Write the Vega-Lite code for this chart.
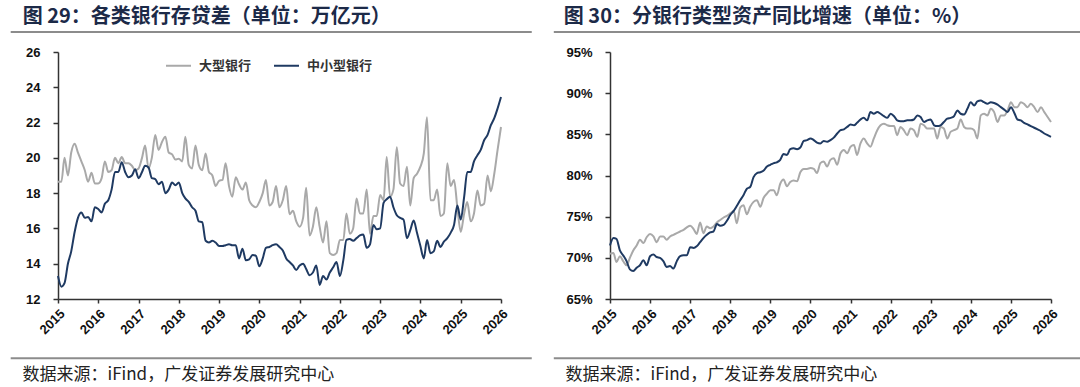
{
  "$schema": "https://vega.github.io/schema/vega-lite/v6.json",
  "background": "white",
  "padding": {"left": 9, "top": 6, "right": 0, "bottom": 0},
  "autosize": {"type": "pad"},
  "spacing": 19,
  "config": {
    "view": {"stroke": null},
    "axis": {"grid": false, "domainColor": "#333333", "domainWidth": 1.5, "tickColor": "#333333", "tickWidth": 1.5, "labelFont": "Liberation Sans", "labelFontSize": 13, "labelFontWeight": "bold", "labelColor": "#111111"}
  },
  "datasets": {
    "left": [
      {"d":"2015-01","b":18.65,"s":13.3},{"d":"2015-02","b":18.65,"s":12.7},{"d":"2015-03","b":20.0,"s":12.9},{"d":"2015-04","b":19.0,"s":14.0},{"d":"2015-05","b":20.3,"s":14.7},{"d":"2015-06","b":20.8,"s":15.8},{"d":"2015-07","b":20.3,"s":16.6},{"d":"2015-08","b":19.8,"s":16.9},{"d":"2015-09","b":19.3,"s":16.6},{"d":"2015-10","b":18.65,"s":16.65},{"d":"2015-11","b":19.15,"s":16.4},{"d":"2015-12","b":18.55,"s":17.2},
      {"d":"2016-01","b":18.55,"s":17.1},{"d":"2016-02","b":18.85,"s":16.9},{"d":"2016-03","b":19.8,"s":17.4},{"d":"2016-04","b":19.2,"s":17.6},{"d":"2016-05","b":19.3,"s":18.2},{"d":"2016-06","b":20.0,"s":19.2},{"d":"2016-07","b":19.7,"s":19.2},{"d":"2016-08","b":20.05,"s":19.75},{"d":"2016-09","b":19.7,"s":19.2},{"d":"2016-10","b":19.7,"s":18.9},{"d":"2016-11","b":19.55,"s":19.0},{"d":"2016-12","b":19.3,"s":19.35},
      {"d":"2017-01","b":19.4,"s":18.85},{"d":"2017-02","b":20.0,"s":19.2},{"d":"2017-03","b":20.7,"s":19.55},{"d":"2017-04","b":19.4,"s":19.45},{"d":"2017-05","b":20.0,"s":18.85},{"d":"2017-06","b":21.3,"s":18.8},{"d":"2017-07","b":20.45,"s":18.5},{"d":"2017-08","b":20.9,"s":18.65},{"d":"2017-09","b":21.2,"s":18.0},{"d":"2017-10","b":20.3,"s":18.2},{"d":"2017-11","b":20.2,"s":18.6},{"d":"2017-12","b":19.9,"s":18.45},
      {"d":"2018-01","b":19.95,"s":18.6},{"d":"2018-02","b":19.8,"s":18.0},{"d":"2018-03","b":21.2,"s":17.7},{"d":"2018-04","b":19.6,"s":17.5},{"d":"2018-05","b":19.4,"s":17.2},{"d":"2018-06","b":20.7,"s":17.0},{"d":"2018-07","b":19.6,"s":16.4},{"d":"2018-08","b":19.3,"s":16.35},{"d":"2018-09","b":20.25,"s":15.3},{"d":"2018-10","b":19.2,"s":15.2},{"d":"2018-11","b":19.0,"s":15.3},{"d":"2018-12","b":18.4,"s":15.2},
      {"d":"2019-01","b":18.7,"s":15.0},{"d":"2019-02","b":18.75,"s":15.0},{"d":"2019-03","b":19.7,"s":15.05},{"d":"2019-04","b":18.4,"s":15.1},{"d":"2019-05","b":17.8,"s":15.05},{"d":"2019-06","b":18.9,"s":15.05},{"d":"2019-07","b":18.5,"s":14.3},{"d":"2019-08","b":18.2,"s":14.85},{"d":"2019-09","b":18.6,"s":14.2},{"d":"2019-10","b":17.6,"s":14.25},{"d":"2019-11","b":17.3,"s":14.5},{"d":"2019-12","b":17.2,"s":14.45},
      {"d":"2020-01","b":17.5,"s":13.85},{"d":"2020-02","b":18.0,"s":14.3},{"d":"2020-03","b":18.75,"s":14.9},{"d":"2020-04","b":17.3,"s":14.95},{"d":"2020-05","b":17.5,"s":15.05},{"d":"2020-06","b":18.4,"s":15.1},{"d":"2020-07","b":17.2,"s":14.95},{"d":"2020-08","b":17.6,"s":14.75},{"d":"2020-09","b":18.4,"s":14.3},{"d":"2020-10","b":16.8,"s":14.1},{"d":"2020-11","b":17.0,"s":13.9},{"d":"2020-12","b":16.4,"s":13.65},
      {"d":"2021-01","b":16.1,"s":13.9},{"d":"2021-02","b":16.6,"s":14.0},{"d":"2021-03","b":18.3,"s":13.7},{"d":"2021-04","b":15.6,"s":13.35},{"d":"2021-05","b":16.1,"s":13.5},{"d":"2021-06","b":17.2,"s":13.9},{"d":"2021-07","b":16.1,"s":12.8},{"d":"2021-08","b":15.2,"s":13.3},{"d":"2021-09","b":16.4,"s":13.1},{"d":"2021-10","b":14.6,"s":13.5},{"d":"2021-11","b":14.5,"s":13.8},{"d":"2021-12","b":14.6,"s":14.1},
      {"d":"2022-01","b":15.35,"s":13.3},{"d":"2022-02","b":15.35,"s":14.2},{"d":"2022-03","b":16.85,"s":15.35},{"d":"2022-04","b":15.7,"s":15.4},{"d":"2022-05","b":16.0,"s":15.3},{"d":"2022-06","b":17.7,"s":15.45},{"d":"2022-07","b":16.85,"s":15.6},{"d":"2022-08","b":16.85,"s":15.65},{"d":"2022-09","b":18.2,"s":14.9},{"d":"2022-10","b":15.7,"s":15.1},{"d":"2022-11","b":16.7,"s":16.2},{"d":"2022-12","b":16.7,"s":15.95},
      {"d":"2023-01","b":17.9,"s":16.0},{"d":"2023-02","b":17.6,"s":17.45},{"d":"2023-03","b":20.05,"s":17.65},{"d":"2023-04","b":17.8,"s":17.8},{"d":"2023-05","b":18.2,"s":17.2},{"d":"2023-06","b":20.6,"s":16.75},{"d":"2023-07","b":18.55,"s":16.6},{"d":"2023-08","b":18.4,"s":16.5},{"d":"2023-09","b":19.5,"s":15.45},{"d":"2023-10","b":17.3,"s":15.9},{"d":"2023-11","b":18.85,"s":16.45},{"d":"2023-12","b":19.1,"s":15.75},
      {"d":"2024-01","b":19.5,"s":15.0},{"d":"2024-02","b":20.25,"s":14.3},{"d":"2024-03","b":22.3,"s":15.35},{"d":"2024-04","b":17.6,"s":14.6},{"d":"2024-05","b":17.6,"s":14.7},{"d":"2024-06","b":18.2,"s":15.3},{"d":"2024-07","b":16.7,"s":14.95},{"d":"2024-08","b":16.85,"s":15.25},{"d":"2024-09","b":19.7,"s":15.45},{"d":"2024-10","b":18.4,"s":15.75},{"d":"2024-11","b":18.75,"s":16.2},{"d":"2024-12","b":17.2,"s":17.3},
      {"d":"2025-01","b":15.8,"s":16.5},{"d":"2025-02","b":16.85,"s":17.8},{"d":"2025-03","b":17.5,"s":19.2},{"d":"2025-04","b":16.4,"s":19.2},{"d":"2025-05","b":16.85,"s":19.8},{"d":"2025-06","b":18.15,"s":20.15},{"d":"2025-07","b":17.3,"s":20.45},{"d":"2025-08","b":17.4,"s":21.0},{"d":"2025-09","b":19.0,"s":21.3},{"d":"2025-10","b":18.1,"s":21.85},{"d":"2025-11","b":19.1,"s":22.25},{"d":"2025-12","b":20.45,"s":22.8},
      {"d":"2026-01","b":21.75,"s":23.45}
    ],
    "right": [
      {"d":"2015-01","b":70.5,"s":71.5},{"d":"2015-02","b":70.6,"s":72.4},{"d":"2015-03","b":69.5,"s":72.3},{"d":"2015-04","b":70.2,"s":70.9},{"d":"2015-05","b":69.6,"s":70.3},{"d":"2015-06","b":69.1,"s":69.6},{"d":"2015-07","b":70.0,"s":68.6},{"d":"2015-08","b":70.9,"s":68.4},{"d":"2015-09","b":71.5,"s":68.8},{"d":"2015-10","b":72.2,"s":69.1},{"d":"2015-11","b":71.8,"s":69.7},{"d":"2015-12","b":72.5,"s":69.1},
      {"d":"2016-01","b":72.9,"s":70.2},{"d":"2016-02","b":72.6,"s":70.4},{"d":"2016-03","b":71.9,"s":70.1},{"d":"2016-04","b":72.6,"s":70.0},{"d":"2016-05","b":72.6,"s":69.6},{"d":"2016-06","b":72.2,"s":68.9},{"d":"2016-07","b":72.6,"s":69.0},{"d":"2016-08","b":72.8,"s":68.7},{"d":"2016-09","b":73.0,"s":69.6},{"d":"2016-10","b":73.2,"s":70.2},{"d":"2016-11","b":73.4,"s":70.3},{"d":"2016-12","b":73.7,"s":70.3},
      {"d":"2017-01","b":73.9,"s":71.3},{"d":"2017-02","b":73.5,"s":71.2},{"d":"2017-03","b":72.9,"s":71.4},{"d":"2017-04","b":74.3,"s":71.9},{"d":"2017-05","b":73.0,"s":72.4},{"d":"2017-06","b":73.8,"s":72.8},{"d":"2017-07","b":73.6,"s":73.1},{"d":"2017-08","b":73.8,"s":73.2},{"d":"2017-09","b":74.3,"s":74.1},{"d":"2017-10","b":74.6,"s":73.9},{"d":"2017-11","b":74.9,"s":74.0},{"d":"2017-12","b":75.1,"s":74.5},
      {"d":"2018-01","b":75.4,"s":75.2},{"d":"2018-02","b":75.7,"s":75.7},{"d":"2018-03","b":74.2,"s":76.3},{"d":"2018-04","b":76.1,"s":77.0},{"d":"2018-05","b":76.4,"s":77.6},{"d":"2018-06","b":75.3,"s":78.4},{"d":"2018-07","b":76.2,"s":78.6},{"d":"2018-08","b":76.8,"s":79.8},{"d":"2018-09","b":77.0,"s":80.3},{"d":"2018-10","b":76.2,"s":80.4},{"d":"2018-11","b":77.3,"s":80.6},{"d":"2018-12","b":77.8,"s":81.1},
      {"d":"2019-01","b":78.2,"s":81.3},{"d":"2019-02","b":78.2,"s":81.5},{"d":"2019-03","b":77.6,"s":81.6},{"d":"2019-04","b":79.0,"s":81.9},{"d":"2019-05","b":79.5,"s":82.6},{"d":"2019-06","b":78.7,"s":82.5},{"d":"2019-07","b":79.2,"s":83.2},{"d":"2019-08","b":79.4,"s":83.3},{"d":"2019-09","b":79.3,"s":83.2},{"d":"2019-10","b":80.4,"s":83.4},{"d":"2019-11","b":80.8,"s":84.2},{"d":"2019-12","b":80.8,"s":84.3},
      {"d":"2020-01","b":80.9,"s":84.5},{"d":"2020-02","b":80.8,"s":84.3},{"d":"2020-03","b":80.3,"s":84.0},{"d":"2020-04","b":81.5,"s":83.9},{"d":"2020-05","b":81.7,"s":84.2},{"d":"2020-06","b":81.1,"s":84.1},{"d":"2020-07","b":81.9,"s":84.3},{"d":"2020-08","b":82.1,"s":84.6},{"d":"2020-09","b":81.3,"s":85.1},{"d":"2020-10","b":82.7,"s":85.5},{"d":"2020-11","b":83.1,"s":85.6},{"d":"2020-12","b":82.7,"s":85.9},
      {"d":"2021-01","b":83.5,"s":86.2},{"d":"2021-02","b":83.7,"s":86.1},{"d":"2021-03","b":82.5,"s":86.4},{"d":"2021-04","b":83.9,"s":86.8},{"d":"2021-05","b":84.5,"s":87.0},{"d":"2021-06","b":83.9,"s":86.7},{"d":"2021-07","b":83.5,"s":87.7},{"d":"2021-08","b":84.5,"s":87.5},{"d":"2021-09","b":85.5,"s":87.7},{"d":"2021-10","b":86.1,"s":87.5},{"d":"2021-11","b":86.3,"s":87.2},{"d":"2021-12","b":86.1,"s":87.0},
      {"d":"2022-01","b":86.0,"s":87.5},{"d":"2022-02","b":86.0,"s":87.2},{"d":"2022-03","b":84.9,"s":86.7},{"d":"2022-04","b":85.9,"s":86.6},{"d":"2022-05","b":85.5,"s":86.6},{"d":"2022-06","b":84.9,"s":86.7},{"d":"2022-07","b":85.7,"s":86.7},{"d":"2022-08","b":85.5,"s":86.8},{"d":"2022-09","b":84.7,"s":87.3},{"d":"2022-10","b":86.3,"s":87.1},{"d":"2022-11","b":86.1,"s":86.5},{"d":"2022-12","b":85.7,"s":86.7},
      {"d":"2023-01","b":85.7,"s":86.8},{"d":"2023-02","b":85.7,"s":86.1},{"d":"2023-03","b":84.5,"s":86.0},{"d":"2023-04","b":85.9,"s":86.1},{"d":"2023-05","b":85.7,"s":86.5},{"d":"2023-06","b":84.5,"s":86.9},{"d":"2023-07","b":85.3,"s":87.0},{"d":"2023-08","b":85.5,"s":87.2},{"d":"2023-09","b":85.7,"s":87.9},{"d":"2023-10","b":86.8,"s":87.5},{"d":"2023-11","b":85.9,"s":87.4},{"d":"2023-12","b":85.7,"s":88.1},
      {"d":"2024-01","b":85.7,"s":88.9},{"d":"2024-02","b":85.5,"s":88.5},{"d":"2024-03","b":84.5,"s":89.0},{"d":"2024-04","b":87.3,"s":89.1},{"d":"2024-05","b":87.5,"s":88.9},{"d":"2024-06","b":87.3,"s":88.7},{"d":"2024-07","b":88.1,"s":88.9},{"d":"2024-08","b":87.7,"s":88.8},{"d":"2024-09","b":86.5,"s":88.6},{"d":"2024-10","b":87.3,"s":88.3},{"d":"2024-11","b":87.3,"s":88.0},{"d":"2024-12","b":87.9,"s":87.7},
      {"d":"2025-01","b":88.9,"s":88.3},{"d":"2025-02","b":88.3,"s":87.6},{"d":"2025-03","b":88.3,"s":86.8},{"d":"2025-04","b":88.9,"s":86.7},{"d":"2025-05","b":88.7,"s":86.4},{"d":"2025-06","b":88.3,"s":86.2},{"d":"2025-07","b":88.7,"s":86.0},{"d":"2025-08","b":88.3,"s":85.8},{"d":"2025-09","b":87.7,"s":85.6},{"d":"2025-10","b":88.3,"s":85.4},{"d":"2025-11","b":87.7,"s":85.1},{"d":"2025-12","b":87.1,"s":84.9},
      {"d":"2026-01","b":86.5,"s":84.7}
    ]
  },
  "hconcat": [
    {
      "width": 443,
      "height": 247,
      "title": {"text": "图 29：各类银行存贷差（单位：万亿元）", "anchor": "start", "frame": "bounds", "dx": 13, "offset": -12, "baseline": "alphabetic", "font": "Noto Sans CJK SC", "fontSize": 20, "fontWeight": "bold", "color": "#1c2a48"},
      "layer": [
        {
          "data": {"name": "left"},
          "transform": [{"fold": ["b", "s"], "as": ["series", "v"]}],
          "mark": {"type": "line", "strokeWidth": 2, "interpolate": "monotone"},
          "encoding": {
            "x": {"field": "d", "type": "temporal",
              "scale": {"type": "utc", "domain": [{"year": 2015, "month": 1, "date": 1, "utc": true}, {"year": 2026, "month": 1, "date": 1, "utc": true}], "nice": false},
              "axis": {"format": "%Y", "formatType": "utc", "tickCount": {"interval": "year", "step": 1}, "labelAngle": -45, "labelOverlap": false, "tickSize": 4, "labelPadding": 4,
                "title": "数据来源：iFind，广发证券发展研究中心", "titleFont": "Noto Sans CJK SC", "titleFontSize": 17, "titleFontWeight": "normal", "titleColor": "#222222", "titleAnchor": "start", "titleAlign": "left", "titleBaseline": "alphabetic", "titleAngle": 0, "titleX": -36, "titleY": 80}},
            "y": {"field": "v", "type": "quantitative",
              "scale": {"domain": [12, 26], "nice": false, "zero": false},
              "axis": {"values": [12, 14, 16, 18, 20, 22, 24, 26], "labelOverlap": false, "title": null, "tickSize": 5, "labelPadding": 13}},
            "color": {"field": "series", "type": "nominal",
              "scale": {"domain": ["b", "s"], "range": ["#a9a9a9", "#1f3a62"]},
              "legend": {"orient": "none", "legendX": 107, "legendY": 0, "direction": "horizontal", "title": null, "padding": 0, "symbolType": "stroke", "symbolSize": 625, "symbolStrokeWidth": 2, "labelFont": "Noto Sans CJK SC", "labelFontSize": 13, "labelFontWeight": "bold", "labelColor": "#333333", "labelOffset": 7, "columnPadding": 18, "labelExpr": "datum.label == 'b' ? '大型银行' : '中小型银行'"}}
          }
        },
        {
          "data": {"values": [{}]},
          "mark": {"type": "rule", "color": "#8c8c8c", "strokeWidth": 2},
          "encoding": {
            "x": {"datum": {"year": 2013, "month": 10, "date": 29, "utc": true}, "type": "temporal",
              "scale": {"type": "utc", "domain": [{"year": 2015, "month": 1, "date": 1, "utc": true}, {"year": 2026, "month": 1, "date": 1, "utc": true}], "nice": false},
              "axis": {"format": "%Y", "formatType": "utc", "tickCount": {"interval": "year", "step": 1}, "labelAngle": -45, "labelOverlap": false, "tickSize": 4, "labelPadding": 4,
                "title": "数据来源：iFind，广发证券发展研究中心", "titleFont": "Noto Sans CJK SC", "titleFontSize": 17, "titleFontWeight": "normal", "titleColor": "#222222", "titleAnchor": "start", "titleAlign": "left", "titleBaseline": "alphabetic", "titleAngle": 0, "titleX": -36, "titleY": 80}},
            "x2": {"datum": {"year": 2026, "month": 10, "date": 7, "utc": true}},
            "y": {"datum": 27.13, "type": "quantitative",
              "scale": {"domain": [12, 26], "nice": false, "zero": false},
              "axis": {"values": [12, 14, 16, 18, 20, 22, 24, 26], "labelOverlap": false, "title": null, "tickSize": 5, "labelPadding": 13}}
          }
        },
        {
          "data": {"values": [{}]},
          "mark": {"type": "rule", "color": "#8c8c8c", "strokeWidth": 2},
          "encoding": {
            "x": {"datum": {"year": 2013, "month": 10, "date": 29, "utc": true}, "type": "temporal",
              "scale": {"type": "utc", "domain": [{"year": 2015, "month": 1, "date": 1, "utc": true}, {"year": 2026, "month": 1, "date": 1, "utc": true}], "nice": false},
              "axis": {"format": "%Y", "formatType": "utc", "tickCount": {"interval": "year", "step": 1}, "labelAngle": -45, "labelOverlap": false, "tickSize": 4, "labelPadding": 4,
                "title": "数据来源：iFind，广发证券发展研究中心", "titleFont": "Noto Sans CJK SC", "titleFontSize": 17, "titleFontWeight": "normal", "titleColor": "#222222", "titleAnchor": "start", "titleAlign": "left", "titleBaseline": "alphabetic", "titleAngle": 0, "titleX": -36, "titleY": 80}},
            "x2": {"datum": {"year": 2026, "month": 10, "date": 7, "utc": true}},
            "y": {"datum": 8.64, "type": "quantitative",
              "scale": {"domain": [12, 26], "nice": false, "zero": false},
              "axis": {"values": [12, 14, 16, 18, 20, 22, 24, 26], "labelOverlap": false, "title": null, "tickSize": 5, "labelPadding": 13}}
          }
        }
      ]
    },
    {
      "width": 441,
      "height": 247,
      "title": {"text": "图 30：分银行类型资产同比增速（单位：%）", "anchor": "start", "frame": "bounds", "dx": 11, "offset": -12, "baseline": "alphabetic", "font": "Noto Sans CJK SC", "fontSize": 20, "fontWeight": "bold", "color": "#1c2a48"},
      "layer": [
        {
          "data": {"name": "right"},
          "transform": [{"fold": ["b", "s"], "as": ["series", "v"]}],
          "mark": {"type": "line", "strokeWidth": 2, "interpolate": "monotone"},
          "encoding": {
            "x": {"field": "d", "type": "temporal",
              "scale": {"type": "utc", "domain": [{"year": 2015, "month": 1, "date": 1, "utc": true}, {"year": 2026, "month": 1, "date": 1, "utc": true}], "nice": false},
              "axis": {"format": "%Y", "formatType": "utc", "tickCount": {"interval": "year", "step": 1}, "labelAngle": -45, "labelOverlap": false, "tickSize": 4, "labelPadding": 4,
                "title": "数据来源：iFind，广发证券发展研究中心", "titleFont": "Noto Sans CJK SC", "titleFontSize": 17, "titleFontWeight": "normal", "titleColor": "#222222", "titleAnchor": "start", "titleAlign": "left", "titleBaseline": "alphabetic", "titleAngle": 0, "titleX": -45, "titleY": 80}},
            "y": {"field": "v", "type": "quantitative",
              "scale": {"domain": [65, 95], "nice": false, "zero": false},
              "axis": {"values": [65, 70, 75, 80, 85, 90, 95], "labelOverlap": false, "labelExpr": "datum.value + '%'", "title": null, "tickSize": 5, "labelPadding": 13}},
            "color": {"field": "series", "type": "nominal",
              "scale": {"domain": ["b", "s"], "range": ["#a9a9a9", "#1f3a62"]},
              "legend": {"orient": "none", "legendX": 100, "legendY": 0, "direction": "horizontal", "title": null, "padding": 0, "symbolType": "stroke", "symbolSize": 625, "symbolStrokeWidth": 2, "labelFont": "Noto Sans CJK SC", "labelFontSize": 13, "labelFontWeight": "bold", "labelColor": "#333333", "labelOffset": 7, "columnPadding": 18, "labelExpr": "datum.label == 'b' ? '大型银行' : '中小型银行'"}}
          }
        },
        {
          "data": {"values": [{}]},
          "mark": {"type": "rule", "color": "#8c8c8c", "strokeWidth": 2},
          "encoding": {
            "x": {"datum": {"year": 2013, "month": 8, "date": 7, "utc": true}, "type": "temporal",
              "scale": {"type": "utc", "domain": [{"year": 2015, "month": 1, "date": 1, "utc": true}, {"year": 2026, "month": 1, "date": 1, "utc": true}], "nice": false},
              "axis": {"format": "%Y", "formatType": "utc", "tickCount": {"interval": "year", "step": 1}, "labelAngle": -45, "labelOverlap": false, "tickSize": 4, "labelPadding": 4,
                "title": "数据来源：iFind，广发证券发展研究中心", "titleFont": "Noto Sans CJK SC", "titleFontSize": 17, "titleFontWeight": "normal", "titleColor": "#222222", "titleAnchor": "start", "titleAlign": "left", "titleBaseline": "alphabetic", "titleAngle": 0, "titleX": -45, "titleY": 80}},
            "x2": {"datum": {"year": 2026, "month": 10, "date": 1, "utc": true}},
            "y": {"datum": 97.43, "type": "quantitative",
              "scale": {"domain": [65, 95], "nice": false, "zero": false},
              "axis": {"values": [65, 70, 75, 80, 85, 90, 95], "labelOverlap": false, "labelExpr": "datum.value + '%'", "title": null, "tickSize": 5, "labelPadding": 13}}
          }
        },
        {
          "data": {"values": [{}]},
          "mark": {"type": "rule", "color": "#8c8c8c", "strokeWidth": 2},
          "encoding": {
            "x": {"datum": {"year": 2013, "month": 8, "date": 7, "utc": true}, "type": "temporal",
              "scale": {"type": "utc", "domain": [{"year": 2015, "month": 1, "date": 1, "utc": true}, {"year": 2026, "month": 1, "date": 1, "utc": true}], "nice": false},
              "axis": {"format": "%Y", "formatType": "utc", "tickCount": {"interval": "year", "step": 1}, "labelAngle": -45, "labelOverlap": false, "tickSize": 4, "labelPadding": 4,
                "title": "数据来源：iFind，广发证券发展研究中心", "titleFont": "Noto Sans CJK SC", "titleFontSize": 17, "titleFontWeight": "normal", "titleColor": "#222222", "titleAnchor": "start", "titleAlign": "left", "titleBaseline": "alphabetic", "titleAngle": 0, "titleX": -45, "titleY": 80}},
            "x2": {"datum": {"year": 2026, "month": 10, "date": 1, "utc": true}},
            "y": {"datum": 57.8, "type": "quantitative",
              "scale": {"domain": [65, 95], "nice": false, "zero": false},
              "axis": {"values": [65, 70, 75, 80, 85, 90, 95], "labelOverlap": false, "labelExpr": "datum.value + '%'", "title": null, "tickSize": 5, "labelPadding": 13}}
          }
        }
      ]
    }
  ]
}
